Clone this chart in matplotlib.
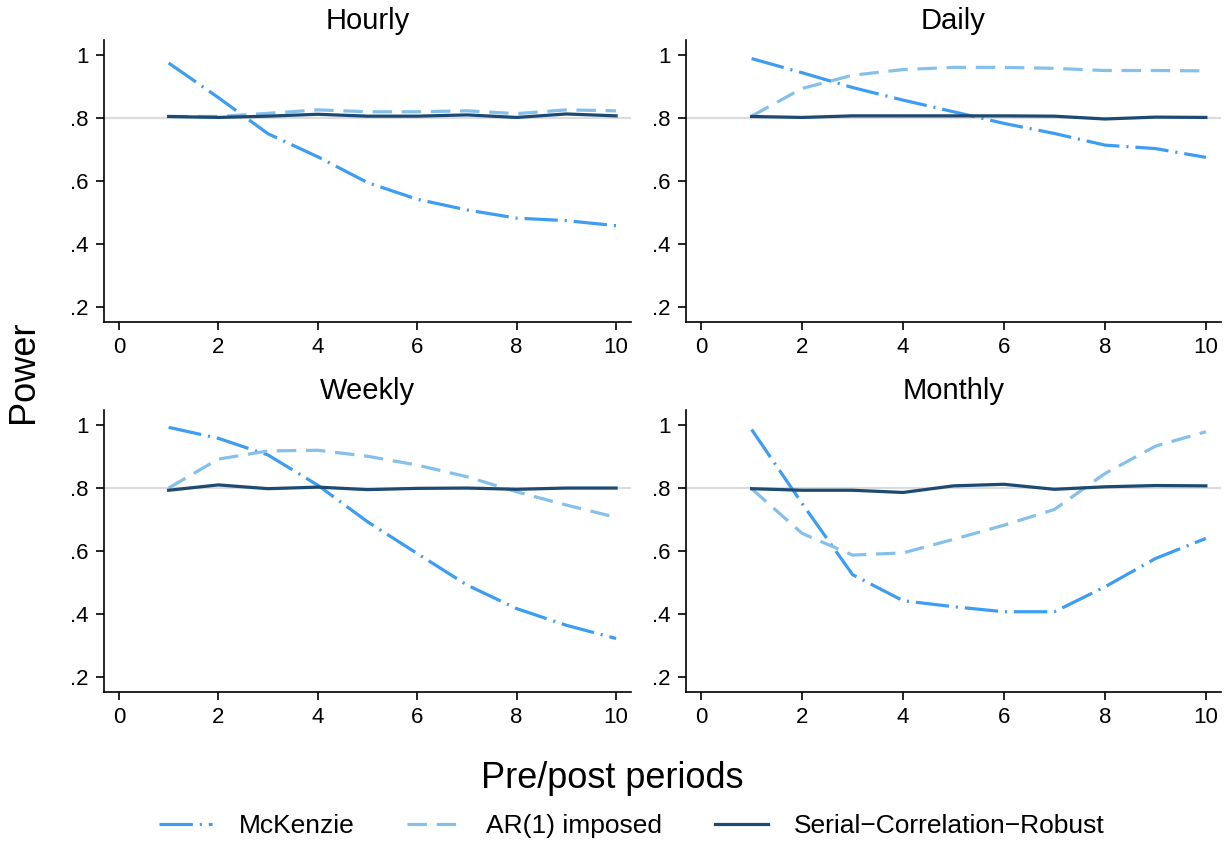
import numpy as np
import matplotlib.pyplot as plt

plt.rcParams["font.family"] = ["Liberation Sans", "DejaVu Sans"]
plt.rcParams["lines.scale_dashes"] = False

periods = [1, 2, 3, 4, 5, 6, 7, 8, 9, 10]
panels = ["Hourly", "Daily", "Weekly", "Monthly"]

mckenzie = {
    "Hourly": [0.975, 0.865, 0.75, 0.677, 0.595, 0.542, 0.508, 0.482, 0.474, 0.458],
    "Daily": [0.989, 0.944, 0.897, 0.857, 0.82, 0.783, 0.751, 0.714, 0.703, 0.675],
    "Weekly": [0.993, 0.958, 0.905, 0.809, 0.693, 0.592, 0.492, 0.417, 0.364, 0.322],
    "Monthly": [0.986, 0.751, 0.525, 0.442, 0.423, 0.407, 0.407, 0.486, 0.576, 0.64],
}
ar1 = {
    "Hourly": [0.805, 0.805, 0.815, 0.826, 0.82, 0.82, 0.823, 0.814, 0.826, 0.823],
    "Daily": [0.806, 0.894, 0.936, 0.954, 0.961, 0.961, 0.958, 0.951, 0.951, 0.95],
    "Weekly": [0.80, 0.892, 0.918, 0.92, 0.901, 0.873, 0.836, 0.788, 0.746, 0.707],
    "Monthly": [0.798, 0.656, 0.587, 0.594, 0.637, 0.682, 0.732, 0.846, 0.933, 0.979],
}
scr = {
    "Hourly": [0.805, 0.802, 0.806, 0.812, 0.806, 0.806, 0.81, 0.802, 0.813, 0.807],
    "Daily": [0.805, 0.802, 0.807, 0.807, 0.807, 0.807, 0.806, 0.797, 0.803, 0.802],
    "Weekly": [0.793, 0.81, 0.798, 0.803, 0.795, 0.799, 0.80, 0.796, 0.80, 0.80],
    "Monthly": [0.798, 0.793, 0.793, 0.786, 0.807, 0.812, 0.796, 0.804, 0.808, 0.807],
}

c_mck = "#3d9df3"
c_ar = "#84c0ea"
c_scr = "#1c4a72"

W, H = 1224, 846
fig = plt.figure(figsize=(W / 100, H / 100), dpi=100)

# pixel boxes (left, right, top, bottom)
boxes = [(104, 631, 40, 322), (686, 1221, 40, 322),
         (104, 631, 410, 692), (686, 1221, 410, 692)]

for name, (l, r, t, b) in zip(panels, boxes):
    ax = fig.add_axes([l / W, 1 - b / H, (r - l) / W, (b - t) / H])
    ax.axhline(0.8, color="#dcdcdc", lw=1.6, zorder=0)
    ax.plot(periods, mckenzie[name], color=c_mck, lw=2.3,
            dashes=(24, 5, 1.5, 5), label="McKenzie")
    ax.plot(periods, ar1[name], color=c_ar, lw=2.3,
            dashes=(14, 7), label="AR(1) imposed")
    ax.plot(periods, scr[name], color=c_scr, lw=2.3,
            label="Serial\u2212Correlation\u2212Robust")
    ax.set_xlim(-0.3, 10.3)
    ax.set_ylim(0.152, 1.048)
    ax.set_xticks([0, 2, 4, 6, 8, 10])
    ax.set_yticks([0.2, 0.4, 0.6, 0.8, 1.0])
    ax.set_yticklabels([".2", ".4", ".6", ".8", "1"])
    ax.spines["top"].set_visible(False)
    ax.spines["right"].set_visible(False)
    for s in ("left", "bottom"):
        ax.spines[s].set_linewidth(1.2)
    ax.tick_params(length=6, width=1.2, labelsize=16, pad=5)
    ax.set_title(name, fontsize=21, pad=8)

fig.text(24 / W, 1 - 372 / H, "Power", rotation=90, fontsize=26,
         ha="center", va="center")
fig.text(0.5, 1 - 778 / H, "Pre/post periods", fontsize=26,
         ha="center", va="center")

handles, labels = fig.axes[0].get_legend_handles_labels()
fig.legend(handles, labels, loc="center",
           bbox_to_anchor=(0.5 + 20 / W, 1 - 826 / H),
           ncol=3, frameon=False, fontsize=19, handlelength=2.0,
           handletextpad=1.0, columnspacing=2.0)

fig.savefig("out.png", dpi=100)
